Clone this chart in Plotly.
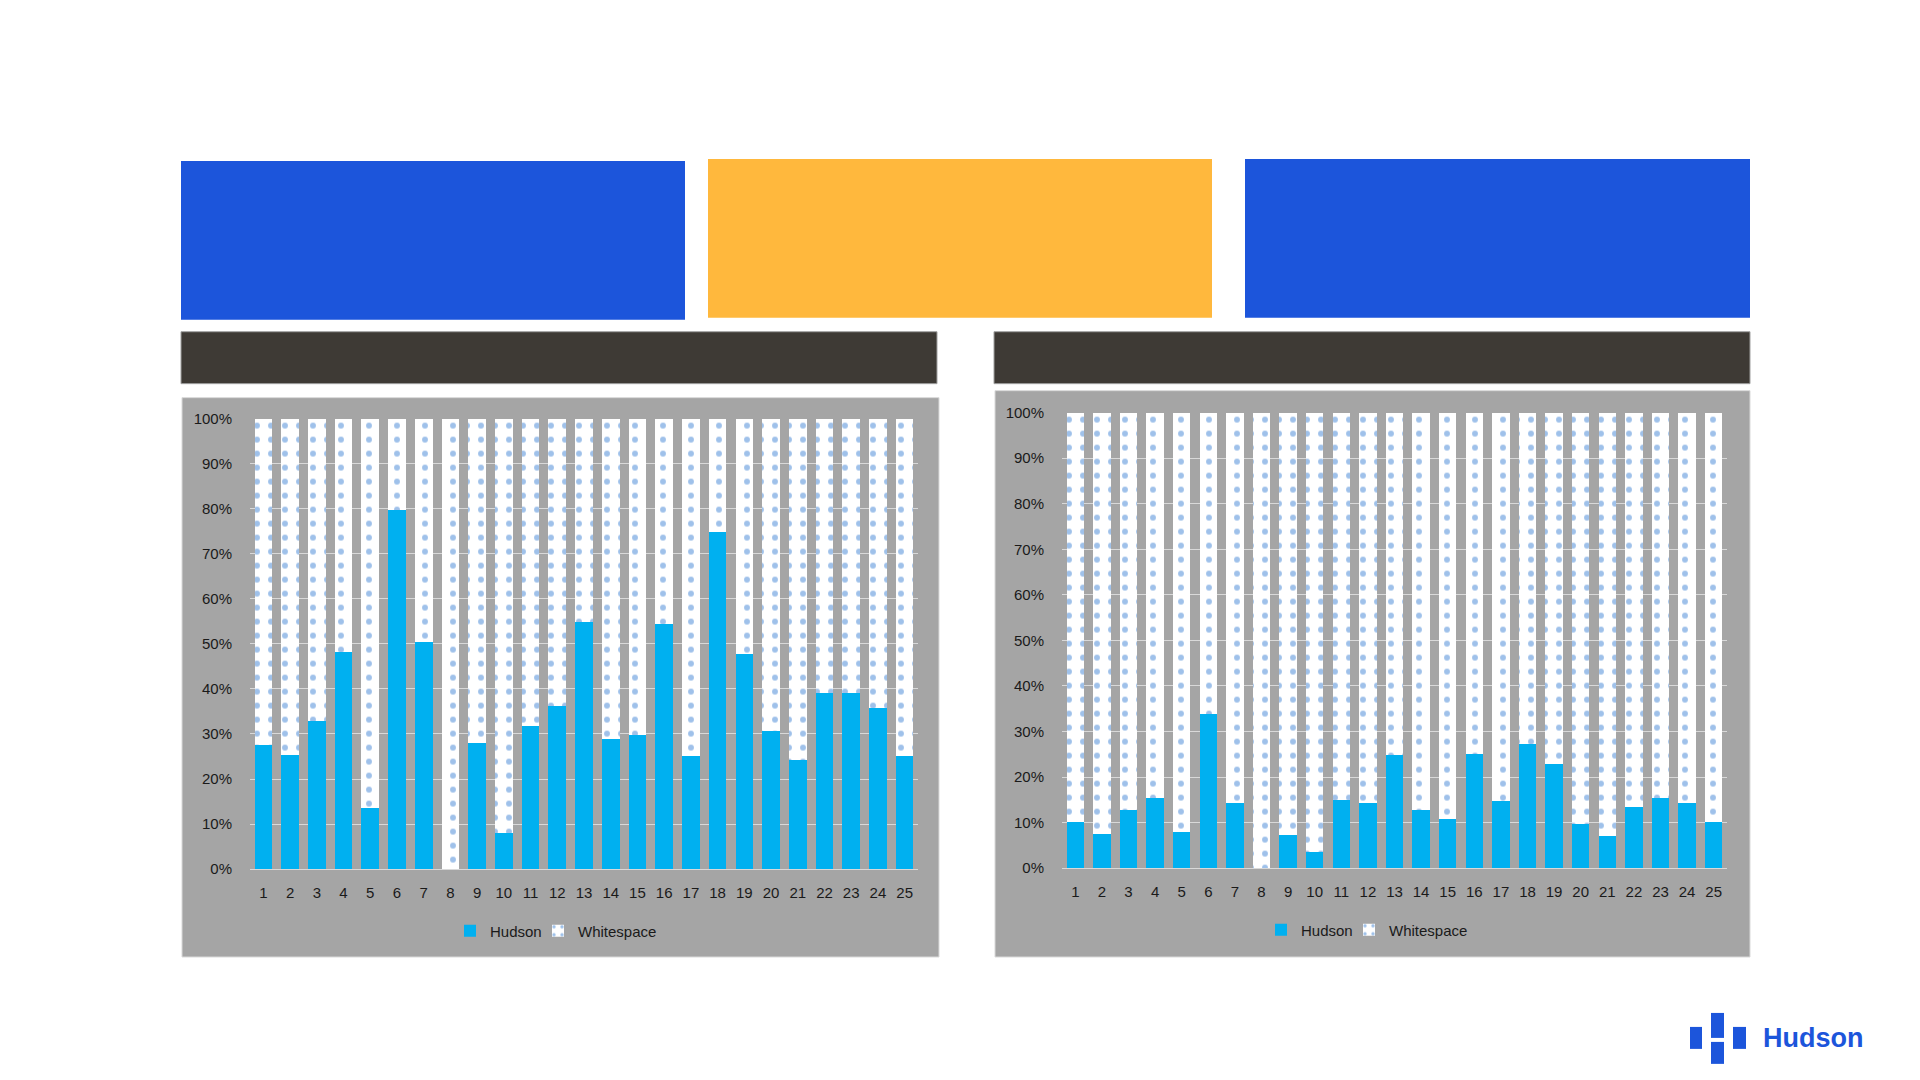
import plotly.graph_objects as go

categories = [str(i) for i in range(1, 26)]
hudson_left = [27.6, 25.4, 32.9, 48.2, 13.5, 79.8, 50.4, 0.0, 27.9, 8.0,
               31.7, 36.2, 54.8, 28.9, 29.8, 54.3, 25.0, 74.8, 47.7, 30.7,
               24.3, 39.2, 39.0, 35.8, 25.0]
hudson_right = [10.1, 7.5, 12.7, 15.4, 8.0, 33.8, 14.3, 0.0, 7.3, 3.6,
                14.9, 14.3, 24.9, 12.8, 10.7, 25.1, 14.7, 27.2, 22.9, 9.6,
                7.0, 13.4, 15.3, 14.3, 10.1]
whitespace_left = [round(100 - v, 1) for v in hudson_left]
whitespace_right = [round(100 - v, 1) for v in hudson_right]
y_ticks = list(range(0, 101, 10))
y_ticklabels = [f"{t}%" for t in y_ticks]

W, H = 1920, 1080
def px(x):
    return x / W
def py(y):
    # compensate observed vertical offset/compression of the rendered page
    ys = (y - 7.9) / 0.9854
    return 1 - ys / H

HUDSON = "#00B0F0"
DOT = "#3F84D6"
FONT = "Liberation Sans, Arial, sans-serif"
TXT = "#1a1a1a"

fig = go.Figure()
pattern = dict(shape=".", fgcolor=DOT, size=14, solidity=0.14)

fig.add_trace(go.Bar(x=categories, y=hudson_left, name="Hudson", marker_color=HUDSON,
                     xaxis="x", yaxis="y", legend="legend", legendwidth=43))
fig.add_trace(go.Bar(x=categories, y=whitespace_left, name="Whitespace", marker_color="white",
                     marker_pattern=pattern, xaxis="x", yaxis="y", legend="legend", legendwidth=82))
fig.add_trace(go.Bar(x=categories, y=hudson_right, name="Hudson", marker_color=HUDSON,
                     xaxis="x2", yaxis="y2", legend="legend2", legendwidth=43))
fig.add_trace(go.Bar(x=categories, y=whitespace_right, name="Whitespace", marker_color="white",
                     marker_pattern=pattern, xaxis="x2", yaxis="y2", legend="legend2", legendwidth=82))
for tr in fig.data:
    tr.marker.line.width = 0

axis_common_x = dict(type="category", showgrid=False, showline=True, linecolor="#D9D9D9",
                     linewidth=1, ticks="", tickfont=dict(family=FONT, size=15, color=TXT),
                     ticklabelstandoff=10, fixedrange=True)
axis_common_y = dict(range=[0, 100], tickvals=y_ticks, ticktext=y_ticklabels, showgrid=True,
                     gridcolor="#D9D9D9", gridwidth=1, zeroline=False, showline=False, ticks="",
                     tickfont=dict(family=FONT, size=15, color=TXT), ticklabelstandoff=17,
                     fixedrange=True)

shapes = []
def rect(x0, y0, x1, y1, color, line=None, layer="below"):
    d = dict(type="rect", xref="paper", yref="paper", x0=px(x0), x1=px(x1), y0=py(y1), y1=py(y0),
             fillcolor=color, layer=layer, line=dict(width=0))
    if line:
        d["line"] = dict(color=line, width=1)
    shapes.append(d)

# header boxes
rect(181, 160, 685, 319, "#1C55DB")
rect(708, 158, 1212, 317, "#FFB83D")
rect(1245, 158, 1750, 317, "#1C55DB")
# dark bars
rect(181, 331, 937, 383, "#3E3A35", line="#A0A0A0")
rect(994, 331, 1750, 383, "#3E3A35", line="#A0A0A0")
# chart panels
rect(182, 397, 939, 957, "#A5A5A5", line="#D9D9D9")
rect(995, 390, 1750, 957, "#A5A5A5", line="#D9D9D9")
# logo blocks
rect(1690, 1027, 1702, 1049, "#1C55DB", layer="above")
rect(1711, 1013, 1724, 1038, "#1C55DB", layer="above")
rect(1711, 1042, 1724, 1064, "#1C55DB", layer="above")
rect(1733, 1027, 1746, 1049, "#1C55DB", layer="above")

legend_common = dict(orientation="h", xanchor="left", yanchor="middle",
                     bgcolor="rgba(0,0,0,0)", font=dict(family=FONT, size=15, color=TXT),
                     itemwidth=30, traceorder="normal")

fig.update_layout(
    width=W, height=H, margin=dict(l=0, r=0, t=0, b=0),
    paper_bgcolor="white", plot_bgcolor="rgba(0,0,0,0)",
    barmode="stack", bargap=0.34,
    xaxis=dict(domain=[px(250), px(918)], anchor="y", **axis_common_x),
    yaxis=dict(domain=[py(869), py(418)], anchor="x", **axis_common_y),
    xaxis2=dict(domain=[px(1062), px(1727)], anchor="y2", **axis_common_x),
    yaxis2=dict(domain=[py(868), py(412)], anchor="x2", **axis_common_y),
    legend=dict(x=px(450), y=py(931), **legend_common),
    legend2=dict(x=px(1261), y=py(930), **legend_common),
    shapes=shapes,
    annotations=[dict(text="<b>Hudson</b>", xref="paper", yref="paper", x=px(1761), y=py(1038),
                      xanchor="left", yanchor="middle", showarrow=False,
                      font=dict(family=FONT, size=27, color="#1C55DB"))],
)

fig.write_html("out.html")
